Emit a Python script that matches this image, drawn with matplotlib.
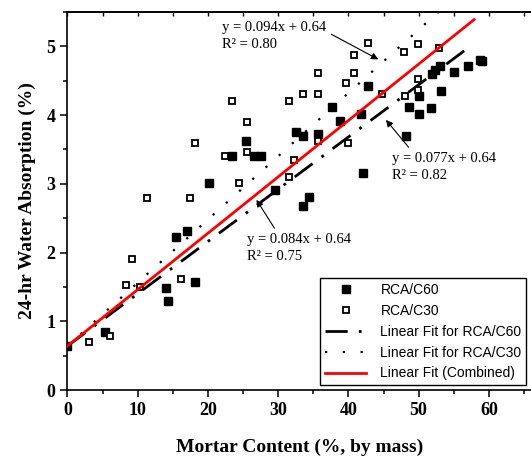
import numpy as np
import matplotlib.pyplot as plt
from matplotlib.ticker import MultipleLocator

# RCA/C60 (filled squares)
c60_x = [0, 5.3, 14.1, 14.3, 18.2, 15.5, 17.0, 20.2, 25.4, 23.5, 26.6, 27.6, 29.6,
         32.5, 33.6, 35.7, 33.5, 34.4, 37.7, 38.8, 41.8, 42.1, 42.8, 48.2, 48.7,
         50.0, 50.1, 51.8, 51.9, 52.3, 53.0, 53.2, 55.0, 57.0, 58.8, 59.0]
c60_y = [0.64, 0.85, 1.48, 1.30, 1.57, 2.23, 2.32, 3.01, 3.62, 3.40, 3.40, 3.40, 2.91,
         3.76, 3.70, 3.72, 2.67, 2.81, 4.12, 3.91, 4.01, 3.16, 4.42, 3.70, 4.11,
         4.28, 4.02, 4.10, 4.60, 4.66, 4.71, 4.35, 4.62, 4.71, 4.80, 4.78]

# RCA/C30 (open squares)
c30_x = [3.1, 6.1, 8.3, 10.3, 9.2, 16.2, 11.3, 17.4, 18.2, 22.4, 23.4, 25.5, 25.5,
         24.4, 31.5, 32.3, 31.6, 33.6, 35.7, 35.7, 35.7, 39.7, 40.0, 40.8, 40.8,
         42.8, 44.8, 47.9, 48.0, 49.9, 49.9, 49.9, 52.9]
c30_y = [0.70, 0.78, 1.53, 1.50, 1.90, 1.62, 2.80, 2.80, 3.60, 3.40, 4.20, 3.90, 3.46,
         3.01, 3.10, 3.34, 4.20, 4.31, 4.31, 4.61, 3.62, 4.47, 3.60, 4.87, 4.61,
         5.05, 4.31, 4.92, 4.28, 5.03, 4.53, 4.36, 4.97]

# fitted lines (slope, intercept, x range) as drawn
fit_c60 = (0.076, 0.64, [0, 57.6])
fit_c30 = (0.092, 0.64, [0, 53])
fit_all = (0.082, 0.64, [0, 57.9])

plt.rcParams['font.family'] = 'Liberation Serif'

fig = plt.figure(figsize=(5.31, 4.57), dpi=100)
ax = fig.add_axes([0.127, 0.1466, 0.873, 0.8274])

ax.plot(c60_x, c60_y, 's', color='black', markersize=6, label='RCA/C60', zorder=3)
ax.plot(c30_x, c30_y, 's', mfc='white', mec='black', mew=1.3, markersize=5,
        label='RCA/C30', zorder=3)

def fitline(f):
    xs = np.array(f[2])
    return xs, f[0] * xs + f[1]

x, y = fitline(fit_c60)
ax.plot(x, y, color='black', lw=2, linestyle=(0, (8, 4, 1, 4)),
        label='Linear Fit for RCA/C60', zorder=2)
x, y = fitline(fit_c30)
ax.plot(x, y, color='black', lw=1.6, linestyle=(0, (1, 7)),
        label='Linear Fit for RCA/C30', zorder=2)
x, y = fitline(fit_all)
ax.plot(x, y, color='red', lw=2, label='Linear Fit (Combined)', zorder=4)

arrow = dict(arrowstyle='-|>', color='black', lw=0.8, mutation_scale=10)
ax.annotate('y = 0.094x + 0.64\nR² = 0.80', xy=(44.6, 4.79), xytext=(22.0, 5.15),
            fontsize=10.5, ha='left', va='center', linespacing=1.4,
            arrowprops=dict(arrow, relpos=(0.93, 0.78)))
ax.annotate('y = 0.077x + 0.64\nR² = 0.82', xy=(45.1, 3.96), xytext=(46.2, 3.24),
            fontsize=10.5, ha='left', va='center', linespacing=1.4,
            arrowprops=dict(arrow, relpos=(0.2, 1.0)))
ax.annotate('y = 0.084x + 0.64\nR² = 0.75', xy=(26.7, 2.80), xytext=(25.5, 2.06),
            fontsize=10.5, ha='left', va='center', linespacing=1.4,
            arrowprops=dict(arrow, relpos=(0.3, 1.0)))

ax.set_xlim(0, 66)
ax.set_ylim(0, 5.5)
ax.xaxis.set_major_locator(MultipleLocator(10))
ax.xaxis.set_minor_locator(MultipleLocator(5))
ax.yaxis.set_major_locator(MultipleLocator(1))
ax.yaxis.set_minor_locator(MultipleLocator(0.5))
ax.tick_params(which='both', direction='out', width=1.1, top=False, right=False)
ax.tick_params(which='major', length=5, labelsize=13)
ax.tick_params(which='minor', length=3)
for lab in ax.get_xticklabels() + ax.get_yticklabels():
    lab.set_fontweight('bold')

# inward ticks on top spine
sec = ax.secondary_xaxis('top')
sec.xaxis.set_major_locator(MultipleLocator(5))
sec.tick_params(direction='in', length=3, width=1, labeltop=False)
sec.spines['top'].set_linewidth(1.2)

ax.spines['right'].set_visible(False)
for s in ['left', 'bottom', 'top']:
    ax.spines[s].set_linewidth(1.2)

ax.set_xlabel('Mortar Content (%, by mass)', fontsize=14, fontweight='bold', labelpad=14)
ax.set_ylabel('24-hr Water Absorption (%)', fontsize=14, fontweight='bold', labelpad=8)

leg = ax.legend(loc='lower right', bbox_to_anchor=(0.996, 0.005),
                prop={'family': 'Liberation Sans', 'size': 10},
                frameon=True, fancybox=False, framealpha=1, edgecolor='black',
                borderpad=0.35, labelspacing=0.5, handlelength=3.0, handletextpad=1.0,
                borderaxespad=0.2)
leg.get_frame().set_linewidth(1.0)

fig.savefig('out.png', dpi=100)
